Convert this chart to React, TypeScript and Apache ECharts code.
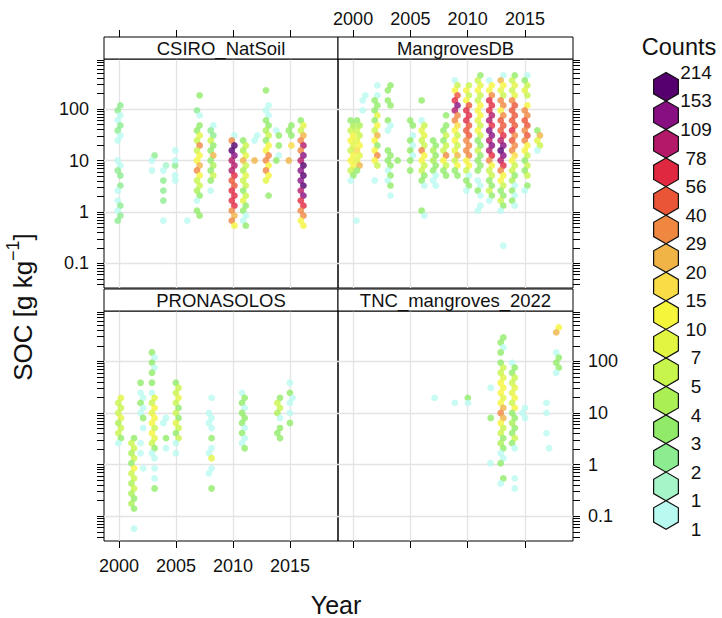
import React, { useEffect, useRef } from 'react';
import * as echarts from 'echarts';

// ---------- data ----------
const PANEL_NAMES = ['CSIRO_NatSoil', 'MangrovesDB', 'PRONASOLOS', 'TNC_mangroves_2022'];
const YEAR_TICKS = [2000, 2005, 2010, 2015];
const SOC_TICKS = [-1, 0, 1, 2]; // log10 of SOC
const SOC_TICK_LABELS = ['0.1', '1', '10', '100'];
const COUNT_BREAKS = ['1', '1', '2', '3', '4', '5', '7', '10', '15', '20', '29', '40', '56', '78', '109', '153', '214'];
const COUNT_COLORS = [
  '#b9faf0', '#a5f5c8', '#8cec90', '#91eb69', '#aaf055', '#c8f54b', '#e1f541', '#f5f53c',
  '#fadc46', '#f0b446', '#f08741', '#eb5537', '#e12841', '#b41969', '#870f82', '#55006e',
];

// hexbin lattice: row r sits at log10(SOC) = ROW_LOG0 + r * ROW_STEP, odd rows shifted half a cell
const ROW_LOG0 = 1;
const ROW_STEP = 0.0975;
const ROW_SHIFT = 0.115;

// columns of hex cells: [year, top row, count level per row going down ('.' = empty, 0-f = colour class)]
const CSIRO_COLS: [number, number, string][] = [
  [2000.0, 11, '22002200...0022.20.02022'],
  [2003.0, 1, '20.0'],
  [2004.0, -1, '10.2.2.2...0'],
  [2004.8, -1, '2.0'],
  [2005.05, 2, '0.0...0'],
  [2006.1, -12, '0'],
  [2006.95, 13, '3..20.3365a5779a755430.33'],
  [2008.15, 7, '022533934353.0'],
  [2010.0, 5, '0affedddcbbcccca9a7'],
  [2011.0, 4, '354695465535633003'],
  [2012.0, 5, '00...9'],
  [2013.0, 14, '3..0003345377aa7a76..3'],
  [2013.9, 6, '03.3.03'],
  [2015.0, 7, '333.8..9'],
  [2016.05, 8, '3659adaedfefefdeccaa77'],
];
const MANGROVE_COLS: [number, number, string][] = [
  [1999.9, 8, '3457765777530'],
  [2000.45, 8, '34556786693'],
  [2000.4, -12, '0'],
  [2000.95, 13, '00.0'],
  [2002.0, 15, '0.033363759737a75..0'],
  [2003.15, 15, '33.33..300...33330303.0'],
  [2004.0, 0, '3'],
  [2005.1, 8, '33.030303.3'],
  [2006.1, 12, '3...056655a7755330....30'],
  [2007.1, 4, '3343433000'],
  [2008.0, 9, '3.335355a7533'],
  [2009.0, 16, '057bcedaa87575695733'],
  [2010.0, 15, '5757bcccbbbaaaa7750330'],
  [2011.0, 17, '35675577765753353333.0030.00'],
  [2012.0, 16, '077acccddceededca75533530'],
  [2013.0, 17, '09765aa7abbbcdefedca77533530'],
  [2013.0, -17, '0'],
  [2014.0, 17, '35656abbbbbcabaa87553403030'],
  [2015.1, 17, '03565.7aabbaba7753535.30'],
  [2016.2, 6, '39650'],
];
const PRONA_COLS: [number, number, string][] = [
  [2000.05, 3, '6555645530'],
  [2001.2, -5, '355453755454343...0'],
  [2002.0, 6, '3.003003.0..0.0..0'],
  [2003.0, 12, '30303.3.06576775765300.0.0.3'],
  [2004.0, -1, '00..3.0'],
  [2005.1, 6, '3556535365350.0'],
  [2008.0, 3, '0..0000.3.006.00..3'],
  [2010.9, 4, '033033303003'],
  [2014.0, 3, '35540.333'],
  [2015.1, 6, '0.300.0.3'],
];
const TNC_COLS: [number, number, string][] = [
  [2007.0, 3, '0'],
  [2009.0, 2, '0'],
  [2009.9, 3, '3'],
  [2010.15, 2, '0'],
  [2011.9, 5, '0'],
  [2011.9, -1, '3'],
  [2012.1, -10, '0'],
  [2013.0, 15, '3303.3556777679a9755343003..30'],
  [2014.0, 10, '033556675733433530.....0.0'],
  [2014.9, 1, '000'],
  [2017.0, 2, '0.0...0..0'],
  [2017.85, 17, '79...03330'],
];
const PANEL_COLS = [CSIRO_COLS, MANGROVE_COLS, PRONA_COLS, TNC_COLS];

// ---------- layout / style ----------
const X_MIN = 1998.68;
const X_MAX = 2019.2;
const Y_MIN = -1.48;
const Y_MAX = 2.975;
const STRIP_H = 22;
const FONT = 'Liberation Sans, Arial, Helvetica, sans-serif';
const TXT = '#111';
const TICK_FONT = 18;
const GRIDS = [
  { left: 104, top: 59, width: 234, height: 229 },
  { left: 338, top: 59, width: 235, height: 229 },
  { left: 104, top: 311, width: 234, height: 230 },
  { left: 338, top: 311, width: 235, height: 230 },
];

function cells(cols: [number, number, string][]) {
  const out: number[][] = [];
  for (const [year, top, levels] of cols) {
    for (let i = 0; i < levels.length; i++) {
      const ch = levels[i];
      if (ch === '.' || ch === ' ') continue;
      const r = top - i;
      const odd = Math.abs(r) % 2 === 1;
      out.push([year + (odd ? ROW_SHIFT : -ROW_SHIFT), ROW_LOG0 + r * ROW_STEP, parseInt(ch, 16)]);
    }
  }
  return out;
}

function logTicks() {
  const t: number[] = [];
  for (let d = -2; d <= 2; d++) {
    for (let k = 1; k <= 9; k++) {
      const v = d + Math.log10(k);
      if (v > Y_MIN && v < Y_MAX) t.push(v);
    }
  }
  return t;
}

function socLabel(v: number) {
  const k = SOC_TICKS.findIndex((t) => Math.abs(t - v) < 1e-6);
  return k >= 0 ? SOC_TICK_LABELS[k] : '';
}

function buildOption() {
  const minor = logTicks();
  const xAxis: any[] = [];
  const yAxis: any[] = [];
  const series: any[] = [];
  const graphic: any[] = [];

  GRIDS.forEach((g, i) => {
    const isTop = i < 2;
    const isLeft = i % 2 === 0;
    xAxis.push({
      gridIndex: i,
      type: 'value',
      min: X_MIN,
      max: X_MAX,
      position: isTop ? 'top' : 'bottom',
      offset: isTop ? STRIP_H : 0,
      axisLine: { show: false, onZero: false },
      axisTick: { show: true, inside: false, length: 7, customValues: YEAR_TICKS, lineStyle: { color: '#000', width: 1 } },
      axisLabel: {
        show: i === 1 || i === 2,
        customValues: YEAR_TICKS,
        fontSize: TICK_FONT,
        fontFamily: FONT,
        color: TXT,
        margin: isTop ? 9 : 16,
        formatter: (v: number) => String(Math.round(v)),
      },
      splitLine: { show: true, lineStyle: { color: '#e4e4e4', width: 1.3 } },
    });
    // tick/label axis
    yAxis.push({
      gridIndex: i,
      type: 'value',
      min: Y_MIN,
      max: Y_MAX,
      position: isLeft ? 'left' : 'right',
      axisLine: { show: false, onZero: false },
      axisTick: { show: true, inside: false, length: 7, customValues: minor, lineStyle: { color: '#000', width: 1 } },
      axisLabel: {
        show: i === 0 || i === 3,
        customValues: SOC_TICKS,
        fontSize: TICK_FONT,
        fontFamily: FONT,
        color: TXT,
        margin: 15,
        formatter: socLabel,
      },
      splitLine: { show: false },
    });
    // grid-line axis
    yAxis.push({
      gridIndex: i,
      type: 'value',
      min: Y_MIN,
      max: Y_MAX,
      position: isLeft ? 'right' : 'left',
      axisLine: { show: false, onZero: false },
      axisTick: { show: false, customValues: SOC_TICKS },
      axisLabel: { show: false, customValues: SOC_TICKS },
      splitLine: { show: true, lineStyle: { color: '#e4e4e4', width: 1.3 } },
    });
    series.push({
      type: 'scatter',
      xAxisIndex: i,
      yAxisIndex: 2 * i,
      data: cells(PANEL_COLS[i]),
      symbol: 'circle',
      symbolSize: 6.8,
      silent: true,
      itemStyle: { color: (p: any) => COUNT_COLORS[p.value[2]] },
    });
    // strip
    graphic.push({
      type: 'rect',
      shape: { x: g.left, y: g.top - STRIP_H, width: g.width, height: STRIP_H },
      style: { fill: '#fff', stroke: '#000', lineWidth: 1 },
      z: 10,
    });
    graphic.push({
      type: 'text',
      x: g.left + g.width / 2,
      y: g.top - STRIP_H / 2,
      style: { text: PANEL_NAMES[i], fontSize: 18.5, fontFamily: FONT, fill: TXT, align: 'center', verticalAlign: 'middle' },
      z: 11,
    });
  });

  // legend (Counts)
  const LEG_CX = 666;
  const LEG_TOP = 72.4;
  const HEX_R = 14.3;
  const LEG_STEP = 28.55;
  graphic.push({
    type: 'text',
    x: 679,
    y: 47,
    style: { text: 'Counts', fontSize: 23.5, fontFamily: FONT, fill: TXT, align: 'center', verticalAlign: 'middle' },
  });
  const nLev = COUNT_COLORS.length;
  for (let i = 0; i < nLev; i++) {
    const cy = LEG_TOP + HEX_R + i * LEG_STEP;
    const pts: number[][] = [];
    for (let k = 0; k < 6; k++) {
      const a = Math.PI / 2 + (k * Math.PI) / 3;
      pts.push([LEG_CX + HEX_R * Math.cos(a), cy - HEX_R * Math.sin(a)]);
    }
    graphic.push({
      type: 'polygon',
      shape: { points: pts },
      style: { fill: COUNT_COLORS[nLev - 1 - i], stroke: '#111', lineWidth: 1.2 },
    });
  }
  for (let j = 0; j < COUNT_BREAKS.length; j++) {
    graphic.push({
      type: 'text',
      x: 696,
      y: LEG_TOP + j * LEG_STEP,
      style: {
        text: COUNT_BREAKS[COUNT_BREAKS.length - 1 - j],
        fontSize: 19,
        fontFamily: FONT,
        fill: TXT,
        align: 'center',
        verticalAlign: 'middle',
      },
      z: 5,
    });
  }

  // axis titles
  graphic.push({
    type: 'text',
    x: 336,
    y: 605,
    style: { text: 'Year', fontSize: 25, fontFamily: FONT, fill: TXT, align: 'center', verticalAlign: 'middle' },
  });
  graphic.push({
    type: 'text',
    x: 20,
    y: 307,
    rotation: Math.PI / 2,
    style: {
      text: '{a|SOC [g kg}{b|−1}{a|]}',
      align: 'center',
      verticalAlign: 'middle',
      fill: TXT,
      rich: {
        a: { fontSize: 26, fontFamily: FONT, fill: TXT, lineHeight: 32, verticalAlign: 'bottom' },
        b: { fontSize: 18, fontFamily: FONT, fill: TXT, lineHeight: 32, verticalAlign: 'top' },
      },
    },
  });

  return {
    animation: false,
    backgroundColor: '#ffffff',
    grid: GRIDS.map((g) => ({ ...g, show: true, borderColor: '#000', borderWidth: 1, backgroundColor: 'transparent', containLabel: false })),
    xAxis,
    yAxis,
    series,
    graphic,
  };
}

export default function App() {
  const ref = useRef<HTMLDivElement>(null);
  useEffect(() => {
    document.body.style.margin = '0';
    const chart = echarts.init(ref.current as HTMLDivElement, undefined, { renderer: 'svg' });
    chart.setOption(buildOption() as any);
    return () => chart.dispose();
  }, []);
  return <div ref={ref} style={{ width: 722, height: 618 }} />;
}
